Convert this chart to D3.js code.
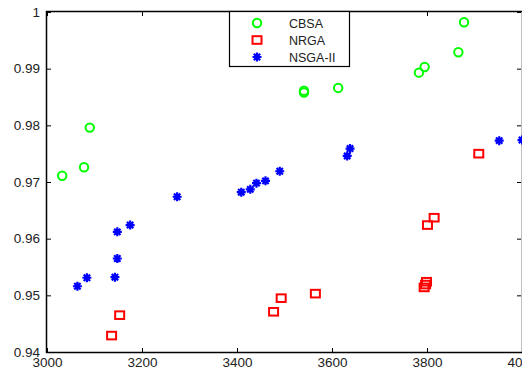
<!DOCTYPE html>
<html>
<head>
<meta charset="utf-8">
<script src="https://cdn.jsdelivr.net/npm/d3@7"></script>
<style>
  body { margin: 0; background: #fff; }
  svg { display: block; }
  text { font-family: "Liberation Sans", Arial, sans-serif; }
</style>
</head>
<body>
<div id="chart"></div>
<script>
// data
var cbsaX = [3032, 3078, 3090, 3541, 3541, 3613, 3783, 3795, 3866, 3878];
var cbsaY = [0.9711, 0.9726, 0.9796, 0.9858, 0.9861, 0.9866, 0.9893, 0.9903, 0.9929, 0.9982];

var nrgaX = [3136, 3153, 3477, 3493, 3565, 3794, 3797, 3799, 3801, 3815, 3909];
var nrgaY = [0.9429, 0.9465, 0.9471, 0.9495, 0.9503, 0.9514, 0.9519, 0.9524, 0.9624, 0.9637, 0.9750];

var nsgaX = [3064, 3084, 3143, 3148, 3148, 3175, 3274, 3409, 3428, 3441, 3460, 3490, 3632, 3638, 3952, 4000];
var nsgaY = [0.9516, 0.9531, 0.9532, 0.9565, 0.9612, 0.9624, 0.9674, 0.9682, 0.9687, 0.9698, 0.9702, 0.9719, 0.9746, 0.9759, 0.9773, 0.9774];

var xTicks = [3000, 3200, 3400, 3600, 3800, 4000];
var yTicks = [0.94, 0.95, 0.96, 0.97, 0.98, 0.99, 1];
var seriesNames = ["CBSA", "NRGA", "NSGA-II"];

const width = 522, height = 369;
const margin = { top: 12, right: 0, bottom: 17, left: 47 };

var svg = d3.select("#chart").append("svg")
  .attr("width", width)
  .attr("height", height);

var x = d3.scaleLinear().domain([3000, 4000]).range([margin.left, width - margin.right]);
var y = d3.scaleLinear().domain([0.94, 1]).range([height - margin.bottom, margin.top]);

// axes (ticks pointing inward, like matlab)
svg.append("g")
  .attr("transform", "translate(0," + (height - margin.bottom) + ")")
  .call(d3.axisBottom(x).tickValues(xTicks).tickSize(-4).tickPadding(5).tickFormat(d3.format("d")))
  .call(g => g.select(".domain").remove());

svg.append("g")
  .attr("transform", "translate(" + margin.left + ",0)")
  .call(d3.axisLeft(y).tickValues(yTicks).tickSize(-4).tickPadding(7).tickFormat(d => d === 1 ? "1" : d3.format(".2f")(d)))
  .call(g => g.select(".domain").remove());

svg.append("g")
  .attr("transform", "translate(0," + margin.top + ")")
  .call(d3.axisTop(x).tickValues(xTicks).tickSize(-4).tickFormat(""))
  .call(g => g.select(".domain").remove());

svg.append("g")
  .attr("transform", "translate(" + (width - margin.right - 1) + ",0)")
  .call(d3.axisRight(y).tickValues(yTicks).tickSize(-4).tickFormat(""))
  .call(g => g.select(".domain").remove());

svg.selectAll(".tick text")
  .style("font-size", "13.5px")
  .style("fill", "#222");
svg.selectAll(".tick line").attr("stroke", "#000");

// frame
svg.append("rect")
  .attr("x", margin.left - 0.5)
  .attr("y", margin.top - 0.5)
  .attr("width", width - margin.right - margin.left + 1)
  .attr("height", height - margin.bottom - margin.top + 1)
  .attr("fill", "none")
  .attr("stroke", "#000")
  .attr("stroke-width", 1.5);

// marker helpers
function drawCircle(g, cx, cy) {
  g.append("circle").attr("cx", cx).attr("cy", cy).attr("r", 4.2)
    .attr("fill", "none").attr("stroke", "#00ff00").attr("stroke-width", 2);
}
function drawSquare(g, cx, cy) {
  g.append("rect").attr("x", cx - 4.5).attr("y", cy - 3.8).attr("width", 9).attr("height", 7.6)
    .attr("fill", "none").attr("stroke", "#ff0000").attr("stroke-width", 2);
}
function drawStar(g, cx, cy) {
  var r = 4.5, p = "";
  for (var k = 0; k < 4; k++) {
    var a = k * Math.PI / 4;
    p += "M" + (cx - r * Math.cos(a)) + "," + (cy - r * Math.sin(a)) +
         "L" + (cx + r * Math.cos(a)) + "," + (cy + r * Math.sin(a));
  }
  g.append("path").attr("d", p).attr("stroke", "#0000ff").attr("stroke-width", 2.2).attr("fill", "none");
  g.append("circle").attr("cx", cx).attr("cy", cy).attr("r", 2.5).attr("fill", "#0000ff");
}

var plot = svg.append("g");
nsgaX.forEach((d, i) => drawStar(plot, x(d), y(nsgaY[i])));
nrgaX.forEach((d, i) => drawSquare(plot, x(d), y(nrgaY[i])));
cbsaX.forEach((d, i) => drawCircle(plot, x(d), y(cbsaY[i])));

// legend
var leg = svg.append("g");
leg.append("rect")
  .attr("x", 229.5).attr("y", margin.top - 0.5)
  .attr("width", 120).attr("height", 55)
  .attr("fill", "#fff").attr("stroke", "#000").attr("stroke-width", 1.2);

var drawers = [drawCircle, drawSquare, drawStar];
seriesNames.forEach(function(name, i) {
  var ly = 23 + i * 17;
  drawers[i](leg, 257, ly);
  leg.append("text")
    .attr("x", 289).attr("y", ly)
    .attr("dy", "0.36em")
    .style("font-size", "12.5px")
    .style("fill", "#222")
    .text(name);
});
</script>
</body>
</html>
